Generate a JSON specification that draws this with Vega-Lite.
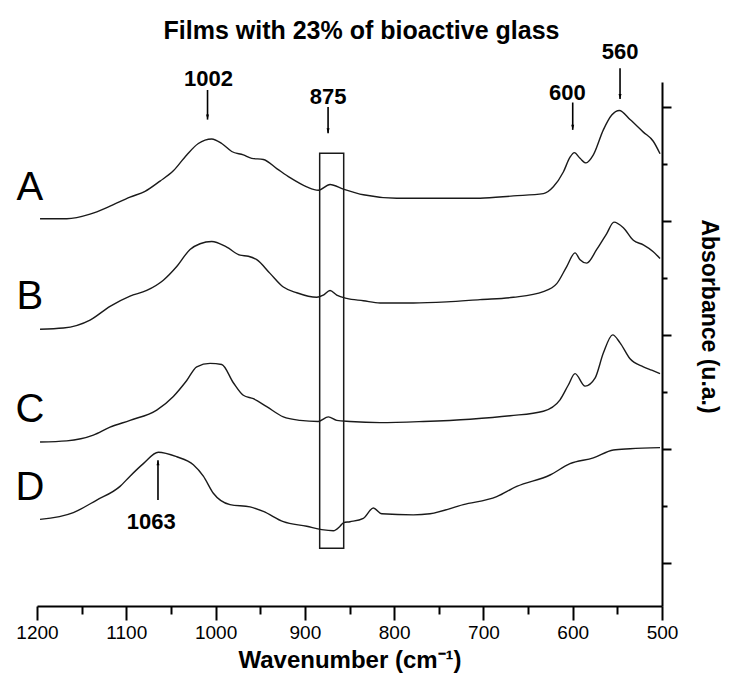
{
  "$schema": "https://vega.github.io/schema/vega-lite/v6.json",
  "width": 625,
  "height": 524,
  "autosize": {"type": "none"},
  "padding": {"left": 37, "top": 82, "right": 76, "bottom": 71},
  "background": "white",
  "config": {"view": {"stroke": null}, "axis": {"ticks": true, "tickOpacity": 1}},
  "title": {"text": "Films with 23% of bioactive glass", "font": "Liberation Sans", "fontSize": 25, "fontWeight": "bold", "color": "black", "anchor": "middle", "dx": 12, "dy": 5, "offset": 2},
  "resolve": {"axis": {"x": "independent", "y": "independent"}},
  "datasets": {
    "spectra": [
      {"s":"A","wn":1196.6,"a":3.02},{"s":"A","wn":1166.7,"a":3.02},{"s":"A","wn":1140.6,"a":3.06},{"s":"A","wn":1118.2,"a":3.13},{"s":"A","wn":1095.8,"a":3.21},{"s":"A","wn":1079.0,"a":3.26},{"s":"A","wn":1062.2,"a":3.35},{"s":"A","wn":1047.3,"a":3.44},{"s":"A","wn":1032.3,"a":3.58},{"s":"A","wn":1019.3,"a":3.68},{"s":"A","wn":1004.3,"a":3.72},{"s":"A","wn":993.1,"a":3.68},{"s":"A","wn":981.9,"a":3.61},{"s":"A","wn":968.9,"a":3.58},{"s":"A","wn":959.5,"a":3.55},{"s":"A","wn":946.5,"a":3.54},{"s":"A","wn":931.5,"a":3.46},{"s":"A","wn":916.6,"a":3.38},{"s":"A","wn":897.9,"a":3.30},{"s":"A","wn":884.9,"a":3.27},{"s":"A","wn":871.8,"a":3.32},{"s":"A","wn":856.9,"a":3.28},{"s":"A","wn":834.5,"a":3.23},{"s":"A","wn":797.1,"a":3.20},{"s":"A","wn":759.8,"a":3.20},{"s":"A","wn":703.8,"a":3.20},{"s":"A","wn":666.5,"a":3.22},{"s":"A","wn":632.9,"a":3.24},{"s":"A","wn":621.7,"a":3.30},{"s":"A","wn":610.5,"a":3.43},{"s":"A","wn":603.0,"a":3.56},{"s":"A","wn":598.2,"a":3.60},{"s":"A","wn":591.8,"a":3.55},{"s":"A","wn":585.1,"a":3.51},{"s":"A","wn":576.9,"a":3.58},{"s":"A","wn":565.7,"a":3.80},{"s":"A","wn":556.3,"a":3.93},{"s":"A","wn":547.8,"a":3.97},{"s":"A","wn":535.8,"a":3.89},{"s":"A","wn":520.9,"a":3.78},{"s":"A","wn":509.8,"a":3.70},{"s":"A","wn":502.2,"a":3.59},
      {"s":"B","wn":1196.6,"a":2.05},{"s":"B","wn":1170.5,"a":2.06},{"s":"B","wn":1140.6,"a":2.13},{"s":"B","wn":1118.2,"a":2.25},{"s":"B","wn":1095.8,"a":2.34},{"s":"B","wn":1077.1,"a":2.39},{"s":"B","wn":1058.5,"a":2.48},{"s":"B","wn":1043.5,"a":2.60},{"s":"B","wn":1028.6,"a":2.75},{"s":"B","wn":1017.4,"a":2.80},{"s":"B","wn":1004.3,"a":2.82},{"s":"B","wn":987.5,"a":2.77},{"s":"B","wn":972.6,"a":2.70},{"s":"B","wn":963.3,"a":2.69},{"s":"B","wn":953.9,"a":2.66},{"s":"B","wn":939.0,"a":2.54},{"s":"B","wn":924.1,"a":2.42},{"s":"B","wn":909.1,"a":2.37},{"s":"B","wn":886.7,"a":2.33},{"s":"B","wn":879.3,"a":2.35},{"s":"B","wn":871.8,"a":2.39},{"s":"B","wn":864.3,"a":2.35},{"s":"B","wn":853.1,"a":2.32},{"s":"B","wn":834.5,"a":2.30},{"s":"B","wn":815.8,"a":2.28},{"s":"B","wn":778.5,"a":2.28},{"s":"B","wn":741.1,"a":2.29},{"s":"B","wn":703.8,"a":2.31},{"s":"B","wn":666.5,"a":2.33},{"s":"B","wn":632.9,"a":2.38},{"s":"B","wn":617.9,"a":2.45},{"s":"B","wn":606.7,"a":2.60},{"s":"B","wn":597.4,"a":2.72},{"s":"B","wn":591.8,"a":2.66},{"s":"B","wn":584.3,"a":2.63},{"s":"B","wn":573.1,"a":2.75},{"s":"B","wn":561.9,"a":2.89},{"s":"B","wn":553.8,"a":2.99},{"s":"B","wn":543.3,"a":2.94},{"s":"B","wn":532.1,"a":2.83},{"s":"B","wn":520.9,"a":2.79},{"s":"B","wn":509.8,"a":2.73},{"s":"B","wn":502.2,"a":2.67},
      {"s":"C","wn":1196.6,"a":1.06},{"s":"C","wn":1166.7,"a":1.07},{"s":"C","wn":1136.9,"a":1.12},{"s":"C","wn":1118.2,"a":1.19},{"s":"C","wn":1095.8,"a":1.25},{"s":"C","wn":1065.9,"a":1.34},{"s":"C","wn":1047.3,"a":1.46},{"s":"C","wn":1032.3,"a":1.60},{"s":"C","wn":1021.1,"a":1.72},{"s":"C","wn":1006.2,"a":1.75},{"s":"C","wn":993.1,"a":1.74},{"s":"C","wn":980.1,"a":1.58},{"s":"C","wn":968.9,"a":1.47},{"s":"C","wn":957.7,"a":1.44},{"s":"C","wn":942.7,"a":1.37},{"s":"C","wn":924.1,"a":1.28},{"s":"C","wn":905.4,"a":1.25},{"s":"C","wn":884.9,"a":1.24},{"s":"C","wn":873.7,"a":1.28},{"s":"C","wn":864.3,"a":1.25},{"s":"C","wn":849.4,"a":1.24},{"s":"C","wn":815.8,"a":1.23},{"s":"C","wn":767.3,"a":1.24},{"s":"C","wn":715.0,"a":1.26},{"s":"C","wn":670.2,"a":1.29},{"s":"C","wn":632.9,"a":1.33},{"s":"C","wn":614.2,"a":1.43},{"s":"C","wn":604.9,"a":1.56},{"s":"C","wn":597.4,"a":1.66},{"s":"C","wn":586.2,"a":1.55},{"s":"C","wn":575.0,"a":1.62},{"s":"C","wn":565.7,"a":1.84},{"s":"C","wn":555.2,"a":2.00},{"s":"C","wn":547.0,"a":1.93},{"s":"C","wn":535.8,"a":1.79},{"s":"C","wn":520.9,"a":1.72},{"s":"C","wn":511.5,"a":1.69},{"s":"C","wn":502.2,"a":1.66},
      {"s":"D","wn":1196.6,"a":0.38},{"s":"D","wn":1159.3,"a":0.44},{"s":"D","wn":1133.1,"a":0.55},{"s":"D","wn":1107.0,"a":0.67},{"s":"D","wn":1095.8,"a":0.76},{"s":"D","wn":1080.9,"a":0.87},{"s":"D","wn":1064.1,"a":0.97},{"s":"D","wn":1043.5,"a":0.93},{"s":"D","wn":1024.9,"a":0.86},{"s":"D","wn":1013.7,"a":0.76},{"s":"D","wn":1002.5,"a":0.61},{"s":"D","wn":983.8,"a":0.51},{"s":"D","wn":961.4,"a":0.49},{"s":"D","wn":946.5,"a":0.45},{"s":"D","wn":924.1,"a":0.36},{"s":"D","wn":897.9,"a":0.32},{"s":"D","wn":881.1,"a":0.29},{"s":"D","wn":868.1,"a":0.28},{"s":"D","wn":860.6,"a":0.32},{"s":"D","wn":856.9,"a":0.35},{"s":"D","wn":849.4,"a":0.36},{"s":"D","wn":834.5,"a":0.39},{"s":"D","wn":823.3,"a":0.48},{"s":"D","wn":813.9,"a":0.43},{"s":"D","wn":778.5,"a":0.42},{"s":"D","wn":759.8,"a":0.43},{"s":"D","wn":722.5,"a":0.51},{"s":"D","wn":685.1,"a":0.58},{"s":"D","wn":662.7,"a":0.67},{"s":"D","wn":625.4,"a":0.77},{"s":"D","wn":603.0,"a":0.87},{"s":"D","wn":576.9,"a":0.92},{"s":"D","wn":554.5,"a":0.99},{"s":"D","wn":535.8,"a":1.00},{"s":"D","wn":502.2,"a":1.01}
    ],
    "box": [{"x1": 883.4, "x2": 856.5, "y1": 3.595, "y2": 0.127}],
    "arrows": [
      {"wn": 1009, "from": 4.15, "tip": 3.89, "dir": "down"},
      {"wn": 874, "from": 4.0, "tip": 3.77, "dir": "down"},
      {"wn": 600, "from": 4.04, "tip": 3.80, "dir": "down"},
      {"wn": 547, "from": 4.34, "tip": 4.07, "dir": "down"},
      {"wn": 1064.5, "from": 0.55, "tip": 0.90, "dir": "up"}
    ],
    "labels": [
      {"text": "1002", "wn": 1008, "a": 4.25},
      {"text": "875", "wn": 874, "a": 4.09},
      {"text": "600", "wn": 606, "a": 4.12},
      {"text": "560", "wn": 547, "a": 4.48},
      {"text": "1063", "wn": 1072, "a": 0.36}
    ],
    "letters": [
      {"text": "A", "wn": 1208, "a": 3.29},
      {"text": "B", "wn": 1208, "a": 2.33},
      {"text": "C", "wn": 1208, "a": 1.34},
      {"text": "D", "wn": 1208, "a": 0.66}
    ]
  },
  "layer": [
    {
      "data": {"name": "spectra"},
      "mark": {"type": "line", "color": "#1a1a1a", "strokeWidth": 1.4, "interpolate": "monotone"},
      "encoding": {
        "x": {
          "field": "wn", "type": "quantitative",
          "scale": {"domain": [500, 1200], "reverse": true, "nice": false, "zero": false},
          "axis": {
            "orient": "bottom", "offset": 0,
            "values": [1200, 1100, 1000, 900, 800, 700, 600, 500],
            "format": "d",
            "labelFont": "Liberation Sans", "labelFontSize": 19, "labelColor": "black",
            "labelPadding": 3, "labelFlush": false, "labelOverlap": false,
            "grid": false,
            "domainColor": "black", "domainWidth": 2,
            "ticks": true, "tickColor": "#000000", "tickWidth": 2, "tickSize": 14, "tickOpacity": 1,
            "title": "Wavenumber (cm⁻¹)",
            "titleFont": "Liberation Sans", "titleFontSize": 24, "titleFontWeight": "bold", "titleColor": "black",
            "titlePadding": 6
          }
        },
        "y": {
          "field": "a", "type": "quantitative",
          "scale": {"domain": [-0.38, 4.22], "nice": false, "zero": false},
          "axis": {
            "orient": "right", "offset": 0,
            "values": [0, 1, 2, 3, 4],
            "labels": false, "grid": false,
            "domainColor": "black", "domainWidth": 2,
            "tickColor": "black", "tickWidth": 2, "tickSize": 9,
            "title": "Absorbance (u.a.)",
            "titleFont": "Liberation Sans", "titleFontSize": 23, "titleFontWeight": "bold", "titleColor": "black",
            "titleAngle": 90, "titleX": 46, "titleY": 234, "titleAlign": "center", "titleBaseline": "middle"
          }
        },
        "detail": {"field": "s"}
      }
    },
    {
      "data": {"name": "box"},
      "mark": {"type": "rect", "filled": false, "stroke": "#1a1a1a", "strokeWidth": 1.5},
      "encoding": {
        "x": {
          "field": "x1", "type": "quantitative",
          "axis": {
            "orient": "bottom", "offset": 0,
            "values": [1150, 1050, 950, 850, 750, 650, 550],
            "labels": false, "domain": false, "grid": false,
            "ticks": true, "tickColor": "#000000", "tickWidth": 2, "tickSize": 8, "tickOpacity": 1,
            "title": null
          }
        },
        "x2": {"field": "x2"},
        "y": {
          "field": "y1", "type": "quantitative",
          "axis": {
            "orient": "right", "offset": 0,
            "values": [0.5, 1.5, 2.5, 3.5],
            "labels": false, "domain": false, "grid": false,
            "tickColor": "black", "tickWidth": 2, "tickSize": 5,
            "title": null
          }
        },
        "y2": {"field": "y2"}
      }
    },
    {
      "data": {"name": "arrows"},
      "mark": {"type": "rule", "color": "black", "strokeWidth": 1.6},
      "encoding": {
        "x": {"field": "wn", "type": "quantitative", "axis": null},
        "y": {"field": "from", "type": "quantitative", "axis": null},
        "y2": {"field": "tip"}
      }
    },
    {
      "data": {"name": "arrows"},
      "transform": [{"filter": "datum.dir === 'down'"}],
      "mark": {"type": "point", "shape": "M-0.3,-1L0.3,-1L0,0Z", "size": 100, "filled": true, "color": "black", "opacity": 1},
      "encoding": {
        "x": {"field": "wn", "type": "quantitative", "axis": null},
        "y": {"field": "tip", "type": "quantitative", "axis": null}
      }
    },
    {
      "data": {"name": "arrows"},
      "transform": [{"filter": "datum.dir === 'up'"}],
      "mark": {"type": "point", "shape": "M-0.3,1L0.3,1L0,0Z", "size": 100, "filled": true, "color": "black", "opacity": 1},
      "encoding": {
        "x": {"field": "wn", "type": "quantitative", "axis": null},
        "y": {"field": "tip", "type": "quantitative", "axis": null}
      }
    },
    {
      "data": {"name": "labels"},
      "mark": {"type": "text", "font": "Liberation Sans", "fontSize": 22, "fontWeight": "bold", "color": "black", "align": "center", "baseline": "middle"},
      "encoding": {
        "x": {"field": "wn", "type": "quantitative", "axis": null},
        "y": {"field": "a", "type": "quantitative", "axis": null},
        "text": {"field": "text"}
      }
    },
    {
      "data": {"name": "letters"},
      "mark": {"type": "text", "font": "Liberation Sans", "fontSize": 40, "color": "black", "align": "center", "baseline": "middle"},
      "encoding": {
        "x": {"field": "wn", "type": "quantitative", "axis": null},
        "y": {"field": "a", "type": "quantitative", "axis": null},
        "text": {"field": "text"}
      }
    }
  ]
}
